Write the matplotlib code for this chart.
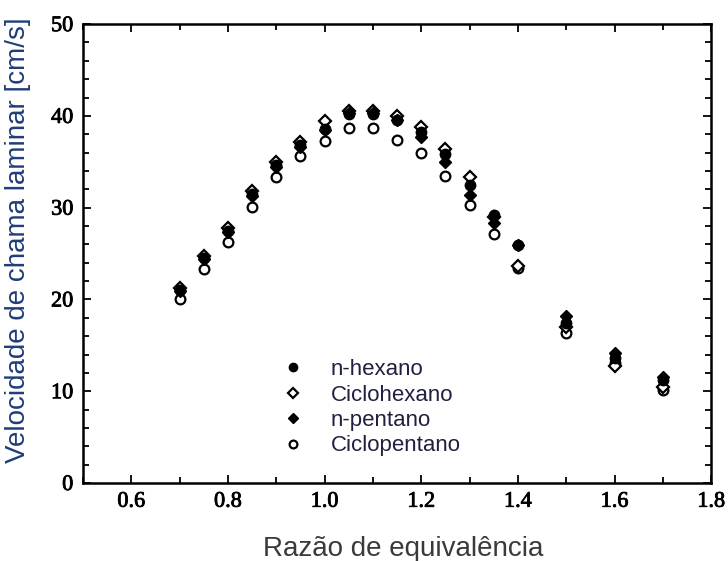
import matplotlib.pyplot as plt
import matplotlib.patheffects as pe
from matplotlib.ticker import MultipleLocator

# equivalence ratio and laminar flame speed [cm/s] for each fuel
phi = [0.70, 0.75, 0.80, 0.85, 0.90, 0.95, 1.00, 1.05, 1.10, 1.15, 1.20, 1.25,
       1.30, 1.35, 1.40, 1.50, 1.60, 1.70]
n_hexano = [21.0, 24.5, 27.5, 31.5, 34.6, 36.8, 38.6, 40.2, 40.2, 39.5, 38.2, 35.9,
            32.5, 29.2, 25.9, 17.4, 13.6, 11.2]
ciclohexano = [21.3, 24.7, 27.8, 31.8, 35.0, 37.2, 39.4, 40.5, 40.5, 40.0, 38.8, 36.4,
               33.3, 29.0, 23.7, 17.0, 12.8, 10.5]
n_pentano = [20.9, 24.4, 27.3, 31.3, 34.4, 36.6, 38.5, 40.3, 40.3, 39.5, 37.7, 35.0,
             31.4, 28.3, 25.9, 18.2, 14.2, 11.5]
ciclopentano = [20.0, 23.3, 26.3, 30.1, 33.3, 35.6, 37.3, 38.7, 38.7, 37.4, 36.0, 33.4,
                30.3, 27.1, 23.4, 16.4, 13.1, 10.1]

fig = plt.figure(figsize=(7.28, 5.61), dpi=100)
ax = fig.add_axes([0.114, 0.139, 0.863, 0.818])

# open markers under filled ones
ax.plot(phi, ciclopentano, 'o', ms=7, mfc='white', mec='black', mew=1.6,
        label='Ciclopentano', zorder=3)
ax.plot(phi, ciclohexano, 'D', ms=6, mfc='white', mec='black', mew=1.6,
        label='Ciclohexano', zorder=3)
ax.plot(phi, n_hexano, 'o', ms=7.5, mfc='black', mec='black',
        label='n-hexano', zorder=4)
ax.plot(phi, n_pentano, 'D', ms=6.5, mfc='black', mec='black',
        label='n-pentano', zorder=5)

ax.set_xlim(0.5, 1.8)
ax.set_ylim(0, 50)
ax.xaxis.set_major_locator(MultipleLocator(0.2))
ax.xaxis.set_minor_locator(MultipleLocator(0.1))
ax.yaxis.set_major_locator(MultipleLocator(10))
ax.yaxis.set_minor_locator(MultipleLocator(2))
ax.set_xticks([0.6, 0.8, 1.0, 1.2, 1.4, 1.6, 1.8])
ax.set_xticklabels(['0.6', '0.8', '1.0', '1.2', '1.4', '1.6', '1.8'])

ax.tick_params(which='both', direction='in', top=True, right=True, width=1.3)
ax.tick_params(which='major', length=6)
ax.tick_params(which='minor', length=4)
ax.tick_params(axis='x', pad=7)
ax.tick_params(axis='y', pad=7)
# slightly heavier serif numbers
for lab in ax.get_xticklabels() + ax.get_yticklabels():
    lab.set_fontfamily('Liberation Serif')
    lab.set_fontsize(16)
    lab.set_path_effects([pe.withStroke(linewidth=0.6, foreground='black')])
for sp in ax.spines.values():
    sp.set_linewidth(1.8)

ax.set_xlabel('Razão de equivalência', fontsize=20, fontfamily='Liberation Sans',
              color='#3a3a3a')
ax.set_ylabel('Velocidade de chama laminar [cm/s]', fontsize=20,
              fontfamily='Liberation Sans', color='#1f3d7a')
ax.xaxis.set_label_coords(0.51, -0.115)
ax.yaxis.set_label_coords(-0.082, 0.53)

h, l = ax.get_legend_handles_labels()
order = [2, 1, 3, 0]
leg = ax.legend([h[i] for i in order], [l[i] for i in order],
                loc='upper left', bbox_to_anchor=(0.317, 0.27),
                frameon=False, borderaxespad=0, borderpad=0,
                labelspacing=0.2, handlelength=1.0, handletextpad=1.2,
                markerscale=0.8, prop={'family': 'Liberation Sans', 'size': 16})
for t in leg.get_texts():
    t.set_color('#202040')

fig.savefig('out.png', dpi=100)
